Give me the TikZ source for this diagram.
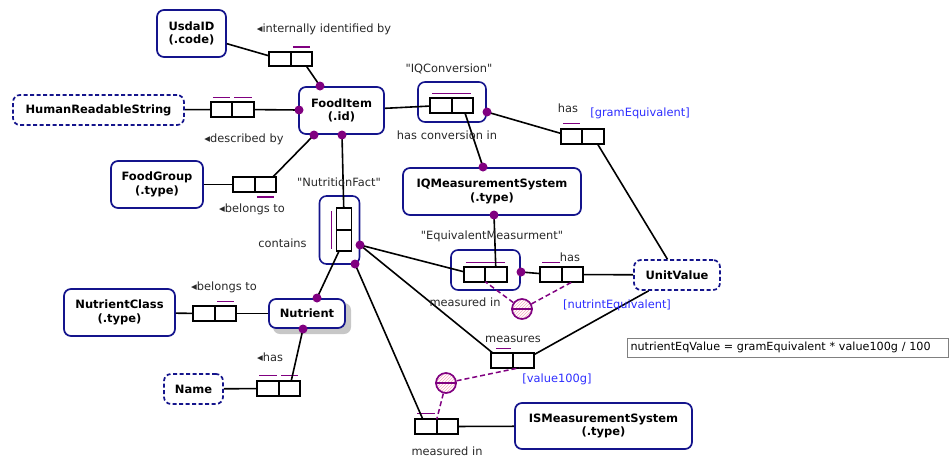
\documentclass[tikz,border=0pt]{standalone}
\usepackage{fontspec}
\setmainfont{DejaVu Sans}[Ligatures=TeXOff]
\usetikzlibrary{patterns,positioning}
\definecolor{navy}{RGB}{20,20,140}
\definecolor{orm}{RGB}{128,0,128}
\definecolor{lbl}{RGB}{40,40,40}
\definecolor{refblue}{RGB}{45,45,255}
\definecolor{hatch}{RGB}{245,170,190}
\begin{document}
\begin{tikzpicture}[x=1pt,y=-1pt,
 ent/.style={draw=navy, line width=1.7pt, rounded corners=7pt, fill=white, font=\bfseries\fontsize{11.5}{13.5}\selectfont, align=center, inner sep=0pt},
 vent/.style={ent, dash pattern=on 4pt off 2.5pt},
 objbox/.style={draw=navy, line width=1.6pt, rounded corners=7pt, inner sep=0pt, fill=white},
 cell/.style={draw=black, line width=1.7pt, minimum width=21.5pt, minimum height=14.5pt, inner sep=0pt, outer sep=0pt, fill=white},
 vcell/.style={cell, minimum width=15pt, minimum height=21.5pt},
 ubar/.style={draw=orm, line width=1.5pt},
 conn/.style={draw=black, line width=1.6pt},
 dot/.style={circle, fill=orm, inner sep=0pt, minimum size=9pt},
 lab/.style={text=lbl, font=\fontsize{11.4}{13}\selectfont, inner sep=0pt},
 rlab/.style={lab, text=refblue},
 cns/.style={draw=orm, line width=1.5pt, dash pattern=on 5pt off 3pt},
 xcirc/.style={circle, draw=orm, line width=1.7pt, minimum size=20pt, inner sep=0pt, pattern=north east lines, pattern color=hatch}
]
\useasboundingbox (0,0) rectangle (950,458);

% ---- entities ----
\node[ent, minimum width=69pt, minimum height=47pt] (usda) at (191.5,33.5) {UsdaID\\(.code)};
\node[vent, minimum width=171pt, minimum height=30pt] (hrs) at (98.5,110) {HumanReadableString};
\node[ent, minimum width=85pt, minimum height=47pt] (fi) at (341.5,110.5) {FoodItem\\(.id)};
\node[ent, minimum width=92pt, minimum height=47pt] (fg) at (157,184.5) {FoodGroup\\(.type)};
\node[ent, minimum width=178pt, minimum height=47pt] (iqm) at (492,191.5) {IQMeasurementSystem\\(.type)};
\node[vent, minimum width=86pt, minimum height=30pt] (uv) at (677,275) {UnitValue};
\node[ent, minimum width=111pt, minimum height=47pt] (nc) at (119.5,312.5) {NutrientClass\\(.type)};
\fill[black!22, rounded corners=7pt] (273,303) rectangle (351,334);
\node[ent, minimum width=76pt, minimum height=29pt] (nut) at (307,313.5) {Nutrient};
\node[vent, minimum width=59pt, minimum height=30pt] (name) at (193.5,389) {Name};
\node[ent, minimum width=177pt, minimum height=46pt] (ism) at (603.5,426) {ISMeasurementSystem\\(.type)};
\node[draw=black!50, line width=1pt, fill=white, minimum width=321pt, minimum height=19pt, inner sep=0pt, font=\fontsize{11.2}{13}\selectfont, text width=315pt, align=left] (formula) at (788,347.5) {nutrientEqValue = gramEquivalent * value100g / 100};

% ---- objectification boxes ----
\node[objbox, minimum width=68pt, minimum height=40pt] (iqc) at (452,102) {};
\node[objbox, minimum width=40pt, minimum height=68pt] (nfo) at (339.5,230) {};
\node[objbox, minimum width=69pt, minimum height=40pt] (emo) at (485.5,270) {};

% ---- role boxes ----
\node[cell] (f1a) at (280,59) {};   \node[cell, right=0pt of f1a] (f1b) {};
\node[cell] (f2a) at (221.5,109.5) {}; \node[cell, right=0pt of f2a] (f2b) {};
\node[cell] (f3a) at (244,184.5) {}; \node[cell, right=0pt of f3a] (f3b) {};
\node[cell] (f4a) at (441,105.5) {}; \node[cell, right=0pt of f4a] (f4b) {};
\node[cell] (f5a) at (571.5,136.5) {}; \node[cell, right=0pt of f5a] (f5b) {};
\node[vcell] (f6a) at (344,219) {}; \node[vcell, below=0pt of f6a] (f6b) {};
\node[cell] (f7a) at (474.5,274.5) {}; \node[cell, right=0pt of f7a] (f7b) {};
\node[cell] (f8a) at (551,274.5) {}; \node[cell, right=0pt of f8a] (f8b) {};
\node[cell] (f9a) at (502,360.5) {}; \node[cell, right=0pt of f9a] (f9b) {};
\node[cell] (f10a) at (426,426.5) {}; \node[cell, right=0pt of f10a] (f10b) {};
\node[cell] (f11a) at (268,388.5) {}; \node[cell, right=0pt of f11a] (f11b) {};
\node[cell] (f12a) at (204,313.5) {}; \node[cell, right=0pt of f12a] (f12b) {};

% ---- uniqueness bars ----
\draw[ubar] ([xshift=2pt,yshift=5pt]f1b.north west) -- ([xshift=-2pt,yshift=5pt]f1b.north east);
\draw[ubar] ([xshift=2pt,yshift=5pt]f2a.north west) -- ([xshift=-2pt,yshift=5pt]f2a.north east);
\draw[ubar] ([xshift=2pt,yshift=5pt]f2b.north west) -- ([xshift=-2pt,yshift=5pt]f2b.north east);
\draw[ubar] ([xshift=2pt,yshift=-5pt]f3b.south west) -- ([xshift=-2pt,yshift=-5pt]f3b.south east);
\draw[ubar] ([xshift=2pt,yshift=5pt]f4a.north west) -- ([xshift=-2pt,yshift=5pt]f4b.north east);
\draw[ubar] ([xshift=2pt,yshift=6pt]f5a.north west) -- ([xshift=-2pt,yshift=6pt]f5a.north east);
\draw[ubar] ([xshift=-5pt,yshift=-3pt]f6a.north west) -- ([xshift=-5pt,yshift=2pt]f6b.south west);
\draw[ubar] ([xshift=2pt,yshift=5pt]f7a.north west) -- ([xshift=-2pt,yshift=5pt]f7b.north east);
\draw[ubar] ([xshift=2pt,yshift=5pt]f8a.north west) -- ([xshift=-2pt,yshift=5pt]f8a.north east);
\draw[ubar] ([xshift=5pt,yshift=5pt]f9a.north west) -- ([xshift=-2pt,yshift=5pt]f9a.north east);
\draw[ubar] ([xshift=2pt,yshift=6pt]f10a.north west) -- ([xshift=-2pt,yshift=6pt]f10a.north east);
\draw[ubar] ([xshift=2pt,yshift=6pt]f11a.north west) -- ([xshift=-2pt,yshift=6pt]f11a.north east);
\draw[ubar] ([xshift=2pt,yshift=6pt]f11b.north west) -- ([xshift=-2pt,yshift=6pt]f11b.north east);
\draw[ubar] ([xshift=2pt,yshift=5pt]f12b.north west) -- ([xshift=-2pt,yshift=5pt]f12b.north east);

% ---- role dots (positions) ----
\coordinate (dFItop) at (320,86);
\coordinate (dFIleft) at (299,110);
\coordinate (dFIbl) at (314,135);
\coordinate (dFIbot) at (342,135);
\coordinate (dIQC) at (487,112);
\coordinate (dIQtop) at (483,167);
\coordinate (dIQbot) at (494,215);
\coordinate (dNFr) at (360,245);
\coordinate (dNFb) at (355,264);
\coordinate (dNtop) at (317,298);
\coordinate (dNbot) at (303,329);
\coordinate (dEMr) at (521,272);

% ---- connectors ----
\draw[conn] (usda) -- (f1a);
\draw[conn] (f1b) -- (dFItop);
\draw[conn] (hrs) -- (f2a);
\draw[conn] (f2b) -- (dFIleft);
\draw[conn] (fg) -- (f3a);
\draw[conn] (f3b) -- (dFIbl);
\draw[conn] (fi) -- (f4a);
\draw[conn] (f4b) -- (dIQtop);
\draw[conn] (dIQC) -- (f5a);
\draw[conn] (f5b) -- (uv);
\draw[conn] (dFIbot) -- (f6a);
\draw[conn] (f6b) -- (dNtop);
\draw[conn] (dNFr) -- (f7a);
\draw[conn] (dNFr) -- (f9a);
\draw[conn] (dNFb) -- (f10a);
\draw[conn] (dIQbot) -- (f7b);
\draw[conn] (dEMr) -- (f8a);
\draw[conn] (f8b) -- (uv);
\draw[conn] (f9b) -- (uv);
\draw[conn] (f10b) -- (ism);
\draw[conn] (nc) -- (f12a);
\draw[conn] (f12b) -- (nut);
\draw[conn] (dNbot) -- (f11b);
\draw[conn] (name) -- (f11a);

% ---- constraints ----
\node[xcirc] (c1) at (522,309) {};
\node[xcirc] (c2) at (446,383) {};
\draw[cns] (c1) -- (f7a.south east);
\draw[cns] (c1) -- (f8b.south);
\draw[cns] (c2) -- ([xshift=-4pt]f9b.south);
\draw[cns] (c2) -- (f10a.north east);
\draw[orm, line width=1.7pt] (c1.west) -- (c1.east);
\draw[orm, line width=1.7pt] (c2.west) -- (c2.east);

% ---- dots ----
\foreach \p in {dFItop,dFIleft,dFIbl,dFIbot,dIQC,dIQtop,dIQbot,dNFr,dNFb,dNtop,dNbot,dEMr}
  \node[dot] at (\p) {};

% ---- labels ----
\node[lab] (l1) at (324,29) {◂internally identified by};
\node[lab] (l2) at (244,139) {◂described by};
\node[lab] (l3) at (252,209) {◂belongs to};
\node[lab] (l4) at (449,69) {"IQConversion"};
\node[lab] (l5) at (447,135) {has conversion in};
\node[lab] (l6) at (568,108) {has};
\node[rlab] (l7) at (640,113) {[gramEquivalent]};
\node[lab] (l8) at (339,182) {"NutritionFact"};
\node[lab] (l9) at (282.5,243) {contains};
\node[lab] (l10) at (492,236) {"EquivalentMeasurment"};
\node[lab] (l11) at (570,257) {has};
\node[rlab] (l12) at (617,305) {[nutrintEquivalent]};
\node[lab] (l13) at (465,302) {measured in};
\node[lab] (l14) at (513,339) {measures};
\node[rlab] (l15) at (557,379) {[value100g]};
\node[lab] (l16) at (447,451) {measured in};
\node[lab] (l17) at (270,357) {◂has};
\node[lab] (l18) at (224,287) {◂belongs to};
\end{tikzpicture}
\end{document}
